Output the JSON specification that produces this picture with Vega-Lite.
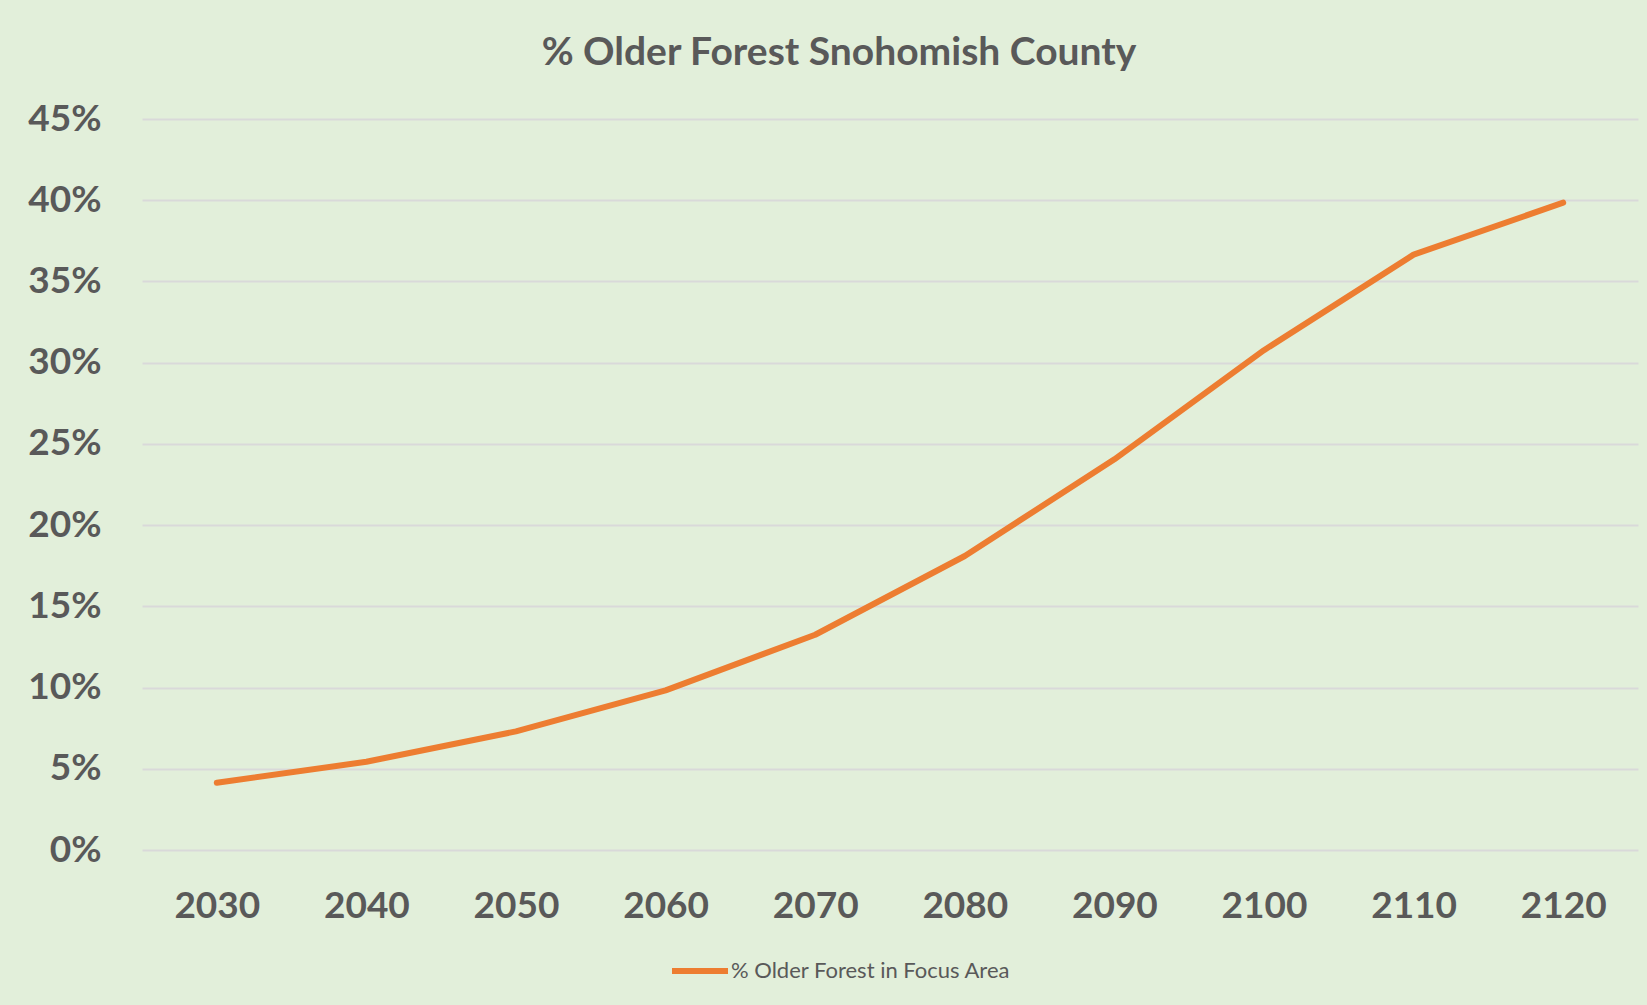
{
  "$schema": "https://vega.github.io/schema/vega-lite/v6.json",
  "width": 1496,
  "height": 731,
  "autosize": {"type": "none"},
  "padding": {"left": 142, "top": 119, "right": 9, "bottom": 155},
  "background": "#E2EFDA",
  "title": {
    "text": "% Older Forest Snohomish County",
    "font": "Lato",
    "fontSize": 39,
    "fontWeight": "bold",
    "color": "#595959",
    "anchor": "middle",
    "dx": -51,
    "offset": 27
  },
  "data": {
    "values": [
      {"year": "2030", "pct": 0.0414, "series": "% Older Forest in Focus Area"},
      {"year": "2040", "pct": 0.0543, "series": "% Older Forest in Focus Area"},
      {"year": "2050", "pct": 0.073, "series": "% Older Forest in Focus Area"},
      {"year": "2060", "pct": 0.0983, "series": "% Older Forest in Focus Area"},
      {"year": "2070", "pct": 0.1325, "series": "% Older Forest in Focus Area"},
      {"year": "2080", "pct": 0.181, "series": "% Older Forest in Focus Area"},
      {"year": "2090", "pct": 0.2405, "series": "% Older Forest in Focus Area"},
      {"year": "2100", "pct": 0.3077, "series": "% Older Forest in Focus Area"},
      {"year": "2110", "pct": 0.3665, "series": "% Older Forest in Focus Area"},
      {"year": "2120", "pct": 0.3985, "series": "% Older Forest in Focus Area"}
    ]
  },
  "mark": {"type": "line", "strokeWidth": 6, "strokeCap": "round", "strokeJoin": "round"},
  "encoding": {
    "x": {
      "field": "year",
      "type": "ordinal",
      "scale": {"type": "point", "padding": 0.5},
      "axis": {
        "title": null,
        "labelAngle": 0,
        "labelFont": "Lato",
        "labelFontSize": 37,
        "labelFontWeight": "bold",
        "labelColor": "#595959",
        "labelBaseline": "alphabetic",
        "labelPadding": 67,
        "ticks": false,
        "tickSize": 0,
        "domain": false,
        "grid": false
      }
    },
    "y": {
      "field": "pct",
      "type": "quantitative",
      "scale": {"domain": [0, 0.45], "nice": false},
      "axis": {
        "title": null,
        "values": [0, 0.05, 0.1, 0.15, 0.2, 0.25, 0.3, 0.35, 0.4, 0.45],
        "format": ".0%",
        "labelFont": "Lato",
        "labelFontSize": 37,
        "labelFontWeight": "bold",
        "labelColor": "#595959",
        "labelPadding": 41,
        "ticks": false,
        "tickSize": 0,
        "domain": false,
        "grid": true,
        "gridColor": "#D9D9D9",
        "gridWidth": 2
      }
    },
    "color": {
      "field": "series",
      "type": "nominal",
      "scale": {"range": ["#ED7D31"]},
      "legend": {
        "title": null,
        "orient": "none",
        "legendX": 527,
        "legendY": 821,
        "symbolType": "stroke",
        "symbolStrokeWidth": 6,
        "symbolSize": 3136,
        "labelFont": "Lato",
        "labelFontSize": 22,
        "labelLimit": 0,
        "labelColor": "#595959",
        "labelOffset": 0
      }
    }
  },
  "config": {"view": {"stroke": null}}
}
